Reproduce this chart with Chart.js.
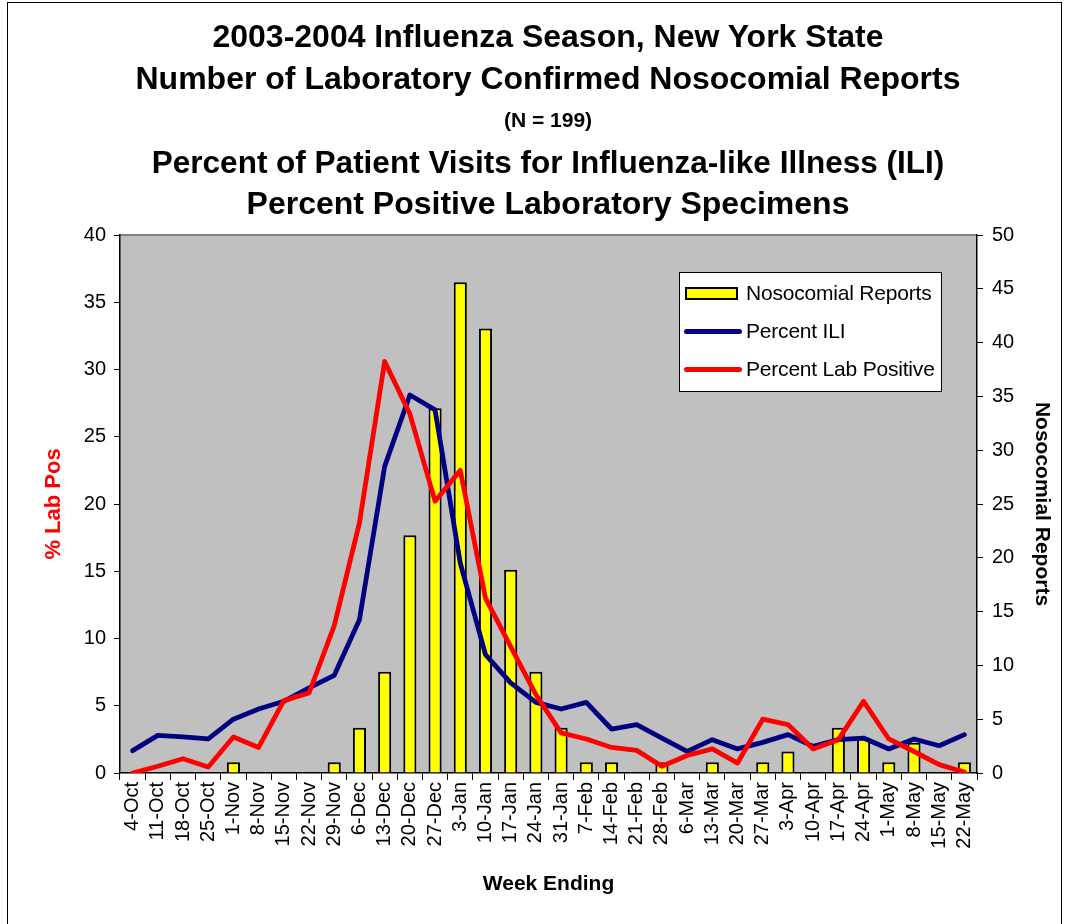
<!DOCTYPE html>
<html><head><meta charset="utf-8">
<script src="https://cdn.jsdelivr.net/npm/chart.js@4"></script>
<style>
html,body{margin:0;padding:0;background:#fff;}
body{width:1066px;height:924px;position:relative;overflow:hidden;font-family:"Liberation Sans",Arial,sans-serif;}
#frame{position:absolute;left:7px;top:2px;width:1055px;height:940px;border:1px solid #000;box-sizing:border-box;}
#wrap{position:absolute;left:0;top:0;width:1066px;height:924px;}
.t{position:absolute;left:0;width:1096px;text-align:center;font-weight:bold;color:#000;white-space:nowrap;}
#legend{position:absolute;left:679px;top:272px;width:263px;height:120px;border:1px solid #000;background:#fff;box-sizing:border-box;}
.row{position:absolute;left:0;height:30px;width:260px;}
.txt{position:absolute;left:66px;top:0;line-height:30px;font-size:21px;color:#000;white-space:nowrap;letter-spacing:-0.2px;}
.sw{position:absolute;left:5px;top:9px;width:53px;height:13px;background:#FFFF00;border:2px solid #000;box-sizing:border-box;}
.ln{position:absolute;left:4px;top:13px;width:58px;height:5px;border-radius:3px;}
</style></head>
<body>
<div id="wrap"><canvas id="c" width="1066" height="924"></canvas></div>
<div id="frame"></div>
<div class="t" style="top:16px;font-size:32px;line-height:40px;">2003-2004 Influenza Season, New York State</div>
<div class="t" style="top:58px;font-size:32px;line-height:40px;">Number of Laboratory Confirmed Nosocomial Reports</div>
<div class="t" style="top:100px;font-size:21px;line-height:40px;">(N = 199)</div>
<div class="t" style="top:142px;font-size:31.5px;line-height:40px;">Percent of Patient Visits for Influenza-like Illness (ILI)</div>
<div class="t" style="top:183px;font-size:32px;line-height:40px;">Percent Positive Laboratory Specimens</div>
<div id="legend">
  <div class="row" style="top:5px;"><div class="sw"></div><div class="txt">Nosocomial Reports</div></div>
  <div class="row" style="top:43px;"><div class="ln" style="background:#000080;"></div><div class="txt">Percent ILI</div></div>
  <div class="row" style="top:81px;"><div class="ln" style="background:#FF0000;"></div><div class="txt">Percent Lab Positive</div></div>
</div>
<script>
const weeks = ['4-Oct','11-Oct','18-Oct','25-Oct','1-Nov','8-Nov','15-Nov','22-Nov','29-Nov','6-Dec','13-Dec','20-Dec','27-Dec','3-Jan','10-Jan','17-Jan','24-Jan','31-Jan','7-Feb','14-Feb','21-Feb','28-Feb','6-Mar','13-Mar','20-Mar','27-Mar','3-Apr','10-Apr','17-Apr','24-Apr','1-May','8-May','15-May','22-May'];
const nosocomialReports = [0,0,0,0,1,0,0,0,1,4.2,9.4,22.1,33.9,45.6,41.3,18.9,9.4,4.2,1,1,0,1,0,1,0,1,2,0,4.2,3.2,1,2.8,0,1];
const percentILI = [1.66,2.8,2.68,2.53,4.0,4.76,5.33,6.32,7.26,11.4,22.8,28.1,27.0,15.6,8.8,6.7,5.25,4.76,5.25,3.27,3.6,2.6,1.6,2.48,1.79,2.28,2.85,1.98,2.48,2.6,1.79,2.53,2.03,2.85];
const percentLabPositive = [0,0.5,1.06,0.45,2.68,1.9,5.38,5.95,10.96,18.6,30.6,26.7,20.2,22.5,13.0,9.4,5.83,2.98,2.53,1.9,1.68,0.5,1.3,1.79,0.74,4.0,3.6,1.79,2.48,5.33,2.53,1.6,0.62,0.07];
const leftTicks = {min:0, max:40, step:5};
const rightTicks = {min:0, max:50, step:5};

const FF = "'Liberation Sans', Arial, sans-serif";

const bgPlugin = {
  id:'plotbg',
  beforeDraw(chart){
    const {ctx, chartArea:a} = chart;
    ctx.save();
    ctx.fillStyle='#C0C0C0';
    ctx.fillRect(a.left,a.top,a.right-a.left,a.bottom-a.top);
    ctx.strokeStyle='#808080'; ctx.lineWidth=2;
    ctx.beginPath(); ctx.moveTo(a.left,a.top); ctx.lineTo(a.right,a.top); ctx.stroke();
    ctx.restore();
  }
};

new Chart(document.getElementById('c'), {
  data: {
    labels: weeks,
    datasets: [
      {type:'line', label:'Percent Lab Positive', data:percentLabPositive, yAxisID:'y', order:0,
       borderColor:'#FF0000', borderWidth:4.8, pointRadius:0, tension:0, borderCapStyle:'round', borderJoinStyle:'round', fill:false},
      {type:'line', label:'Percent ILI', data:percentILI, yAxisID:'y', order:1,
       borderColor:'#000080', borderWidth:4.8, pointRadius:0, tension:0, borderCapStyle:'round', borderJoinStyle:'round', fill:false},
      {type:'bar', label:'Nosocomial Reports', data:nosocomialReports, yAxisID:'y1', order:2,
       backgroundColor:'#FFFF00', borderColor:'#000000', borderWidth:2, borderSkipped:'bottom',
       categoryPercentage:1.0, barPercentage:0.52}
    ]
  },
  options: {
    responsive:false, animation:false, devicePixelRatio:1,
    layout:{padding:{left:38, right:8, top:235, bottom:23}},
    plugins:{legend:{display:false}, tooltip:{enabled:false}, title:{display:false}},
    scales:{
      x:{
        offset:true,
        grid:{display:true, drawOnChartArea:false, offset:true, color:'#000', tickLength:7, lineWidth:1},
        border:{display:true, color:'#000', width:1.5},
        ticks:{color:'#000', font:{family:FF, size:20}, minRotation:90, maxRotation:90, autoSkip:false, padding:2},
        title:{display:true, text:'Week Ending', color:'#000', font:{family:FF, size:21, weight:'bold'}, padding:{top:0, bottom:4}},
        afterFit(s){ s.height = 128; }
      },
      y:{
        position:'left', min:leftTicks.min, max:leftTicks.max,
        grid:{display:true, drawOnChartArea:false, color:'#000', tickLength:6, lineWidth:1},
        border:{display:true, color:'#000', width:1.5},
        ticks:{stepSize:leftTicks.step, color:'#000', font:{family:FF, size:20}, padding:8},
        title:{display:true, text:'% Lab Pos', color:'#FF0000', font:{family:FF, size:22, weight:'bold'}, padding:{top:3, bottom:4}},
        afterFit(s){ s.width = 82; }
      },
      y1:{
        position:'right', min:rightTicks.min, max:rightTicks.max,
        grid:{display:true, drawOnChartArea:false, color:'#000', tickLength:6, lineWidth:1},
        border:{display:true, color:'#000', width:1.5},
        ticks:{stepSize:rightTicks.step, color:'#000', font:{family:FF, size:20}, padding:9},
        title:{display:true, text:'Nosocomial Reports', color:'#000', font:{family:FF, size:21, weight:'bold'}, padding:{top:4, bottom:4}},
        afterFit(s){ s.width = 81; }
      }
    }
  },
  plugins:[bgPlugin]
});
</script>
</body></html>
